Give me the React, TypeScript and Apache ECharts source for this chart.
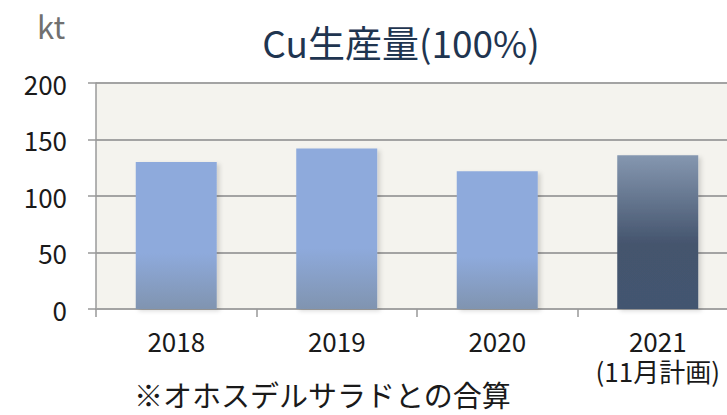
import React, { useEffect, useRef } from "react";
import * as echarts from "echarts";

const categories = ["2018", "2019", "2020", "2021\n(11月計画)"];
const production = [130, 142, 122, 136];
const planIndex = 3;
const yTicks = { min: 0, max: 200, interval: 50 };
const titleText = "Cu生産量(100%)";
const unitText = "kt";
const noteText = "※オホスデルサラドとの合算";

const FONT = "'Noto Sans CJK JP', 'Noto Sans', sans-serif";

export default function App() {
  const ref = useRef<HTMLDivElement>(null);
  useEffect(() => {
    if (!ref.current) return;
    const chart = echarts.init(ref.current, undefined, { renderer: "svg" });
    const lightGrad = new echarts.graphic.LinearGradient(0, 0, 0, 1, [
      { offset: 0, color: "#8eaadc" },
      { offset: 0.62, color: "#8eaadc" },
      { offset: 1, color: "#8094b0" },
    ]);
    const darkGrad = new echarts.graphic.LinearGradient(0, 0, 0, 1, [
      { offset: 0, color: "#8597b0" },
      { offset: 0.58, color: "#44546d" },
      { offset: 1, color: "#435470" },
    ]);
    chart.setOption({
      animation: false,
      backgroundColor: "#ffffff",
      textStyle: { fontFamily: FONT },
      grid: {
        left: 96,
        top: 83,
        width: 642,
        height: 226,
        show: true,
        backgroundColor: "#f4f3ee",
        borderWidth: 0,
        containLabel: false,
        outerBoundsMode: "none",
      },
      xAxis: {
        type: "category",
        data: categories,
        axisLine: { show: true, lineStyle: { color: "#a3a3a3", width: 2 } },
        axisTick: { show: true, length: 8, lineStyle: { color: "#999999", width: 1.5 } },
        axisLabel: {
          interval: 0,
          fontSize: 26,
          lineHeight: 30,
          color: "#1a1a1a",
          margin: 16,
          fontFamily: FONT,
        },
        splitLine: { show: false },
      },
      yAxis: {
        type: "value",
        min: yTicks.min,
        max: yTicks.max,
        interval: yTicks.interval,
        axisLine: { show: true, lineStyle: { color: "#9a9a9a", width: 1.5 } },
        axisTick: { show: true, length: 8, lineStyle: { color: "#999999", width: 1.5 } },
        axisLabel: { fontSize: 26, color: "#1a1a1a", margin: 29, fontFamily: FONT },
        splitLine: { show: true, lineStyle: { color: "#a3a3a3", width: 2 } },
      },
      series: [
        {
          type: "bar",
          barWidth: 81,
          data: production.map((v, i) => ({
            value: v,
            itemStyle: {
              color: i === planIndex ? darkGrad : lightGrad,
              shadowColor: "rgba(0,0,0,0.14)",
              shadowBlur: 4,
              shadowOffsetX: 3,
              shadowOffsetY: 2,
            },
          })),
        },
      ],
      graphic: [
        {
          type: "text",
          x: 401,
          y: 42,
          style: {
            text: titleText,
            fontSize: 37,
            fontFamily: FONT,
            fill: "#1f3550",
            textAlign: "center",
            textVerticalAlign: "middle",
          },
        },
        {
          type: "text",
          x: 37,
          y: 25,
          style: {
            text: unitText,
            fontSize: 31,
            fontFamily: FONT,
            fill: "#707070",
            textAlign: "left",
            textVerticalAlign: "middle",
          },
        },
        {
          type: "text",
          x: 134,
          y: 394,
          style: {
            text: noteText,
            fontSize: 29,
            fontFamily: FONT,
            fill: "#1a1a1a",
            textAlign: "left",
            textVerticalAlign: "middle",
          },
        },
      ],
    });
    return () => chart.dispose();
  }, []);
  return (
    <div
      ref={ref}
      style={{ position: "fixed", left: 0, top: 0, width: 727, height: 415 }}
    />
  );
}
